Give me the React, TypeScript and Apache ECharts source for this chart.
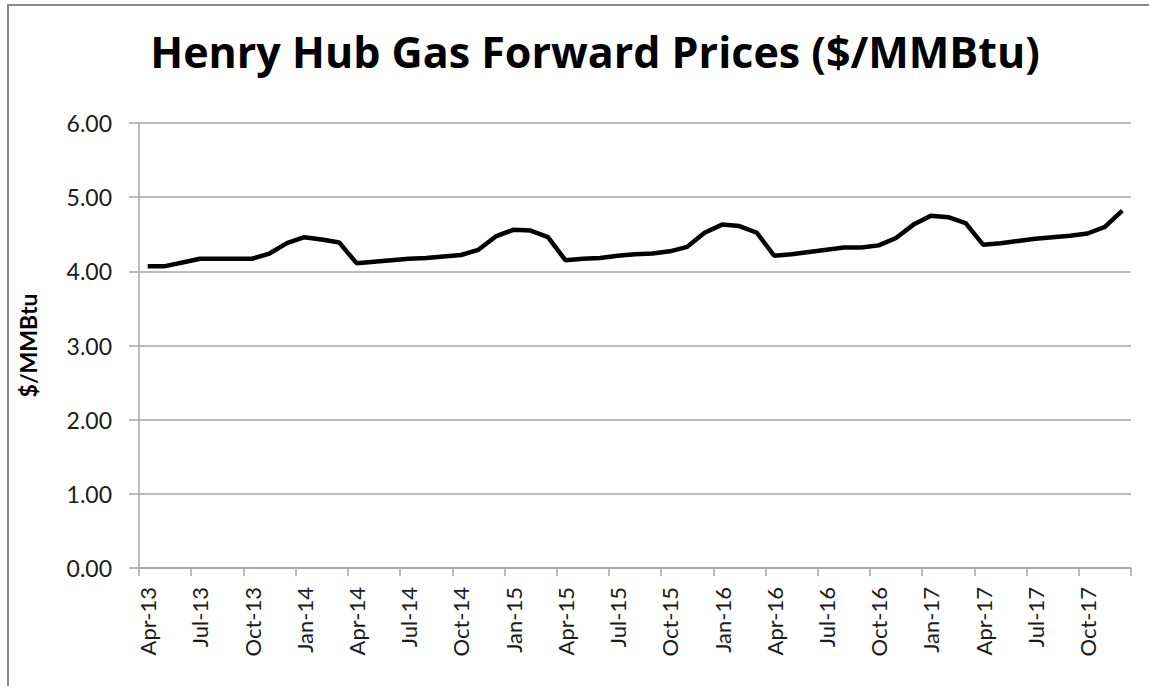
import React, { useEffect, useRef } from "react";
import * as echarts from "echarts";

const categories = [
  "Apr-13","May-13","Jun-13","Jul-13","Aug-13","Sep-13","Oct-13","Nov-13","Dec-13",
  "Jan-14","Feb-14","Mar-14","Apr-14","May-14","Jun-14","Jul-14","Aug-14","Sep-14","Oct-14","Nov-14","Dec-14",
  "Jan-15","Feb-15","Mar-15","Apr-15","May-15","Jun-15","Jul-15","Aug-15","Sep-15","Oct-15","Nov-15","Dec-15",
  "Jan-16","Feb-16","Mar-16","Apr-16","May-16","Jun-16","Jul-16","Aug-16","Sep-16","Oct-16","Nov-16","Dec-16",
  "Jan-17","Feb-17","Mar-17","Apr-17","May-17","Jun-17","Jul-17","Aug-17","Sep-17","Oct-17","Nov-17","Dec-17",
];

const prices = [
  4.07, 4.07, 4.12, 4.17, 4.17, 4.17, 4.17, 4.24, 4.38,
  4.46, 4.43, 4.39, 4.11, 4.13, 4.15, 4.17, 4.18, 4.20, 4.22, 4.29, 4.47,
  4.56, 4.55, 4.46, 4.15, 4.17, 4.18, 4.21, 4.23, 4.24, 4.27, 4.33, 4.52,
  4.63, 4.61, 4.52, 4.21, 4.23, 4.26, 4.29, 4.32, 4.32, 4.35, 4.45, 4.63,
  4.75, 4.73, 4.65, 4.36, 4.38, 4.41, 4.44, 4.46, 4.48, 4.51, 4.60, 4.82,
];

const titleText = "Henry Hub Gas Forward Prices ($/MMBtu)";
const yAxisName = "$/MMBtu";

export default function App() {
  const ref = useRef<HTMLDivElement>(null);
  useEffect(() => {
    if (!ref.current) return;
    const chart = echarts.init(ref.current, undefined, { renderer: "svg" });
    const gridColor = "#a6a6a6";
    chart.setOption({
      animation: false,
      backgroundColor: "#ffffff",
      title: {
        text: titleText,
        left: 590,
        textAlign: "center",
        top: 25,
        textStyle: {
          fontFamily: "Open Sans",
          fontWeight: "bold",
          fontSize: 43,
          color: "#000000",
        },
      },
      graphic: [
        {
          type: "line",
          shape: { x1: 7, y1: 5, x2: 1149, y2: 5 },
          style: { stroke: "#888888", lineWidth: 2 },
        },
        {
          type: "line",
          shape: { x1: 8, y1: 4, x2: 8, y2: 686 },
          style: { stroke: "#888888", lineWidth: 2 },
        },
      ],
      grid: { left: 139, right: 18, top: 123, bottom: 118 },
      xAxis: {
        type: "category",
        data: categories,
        boundaryGap: true,
        axisLine: { lineStyle: { color: gridColor, width: 1.5 } },
        axisTick: {
          show: true,
          interval: 2,
          alignWithLabel: false,
          length: 8,
          lineStyle: { color: gridColor, width: 1.5 },
        },
        axisLabel: {
          interval: 2,
          rotate: 90,
          margin: 19,
          fontFamily: "Lato",
          fontSize: 22,
          color: "#1a1a1a",
        },
        splitLine: { show: false },
      },
      yAxis: {
        type: "value",
        min: 0,
        max: 6,
        interval: 1,
        name: yAxisName,
        nameLocation: "middle",
        nameGap: 100,
        nameRotate: 90,
        nameTextStyle: {
          fontFamily: "Lato",
          fontWeight: "bold",
          fontSize: 23,
          color: "#000000",
        },
        axisLine: { show: true, lineStyle: { color: gridColor, width: 1.5 } },
        axisTick: {
          show: true,
          length: 10,
          lineStyle: { color: gridColor, width: 1.5 },
        },
        axisLabel: {
          margin: 27,
          fontFamily: "Lato",
          fontSize: 23,
          color: "#1a1a1a",
          formatter: (v: number) => v.toFixed(2),
        },
        splitLine: { lineStyle: { color: gridColor, width: 1.5 } },
      },
      series: [
        {
          type: "line",
          data: prices,
          symbol: "none",
          lineStyle: { color: "#000000", width: 4.5 },
        },
      ],
    });
    return () => chart.dispose();
  }, []);
  return (
    <div
      ref={ref}
      style={{ position: "fixed", left: 0, top: 0, width: 1149, height: 686 }}
    />
  );
}
